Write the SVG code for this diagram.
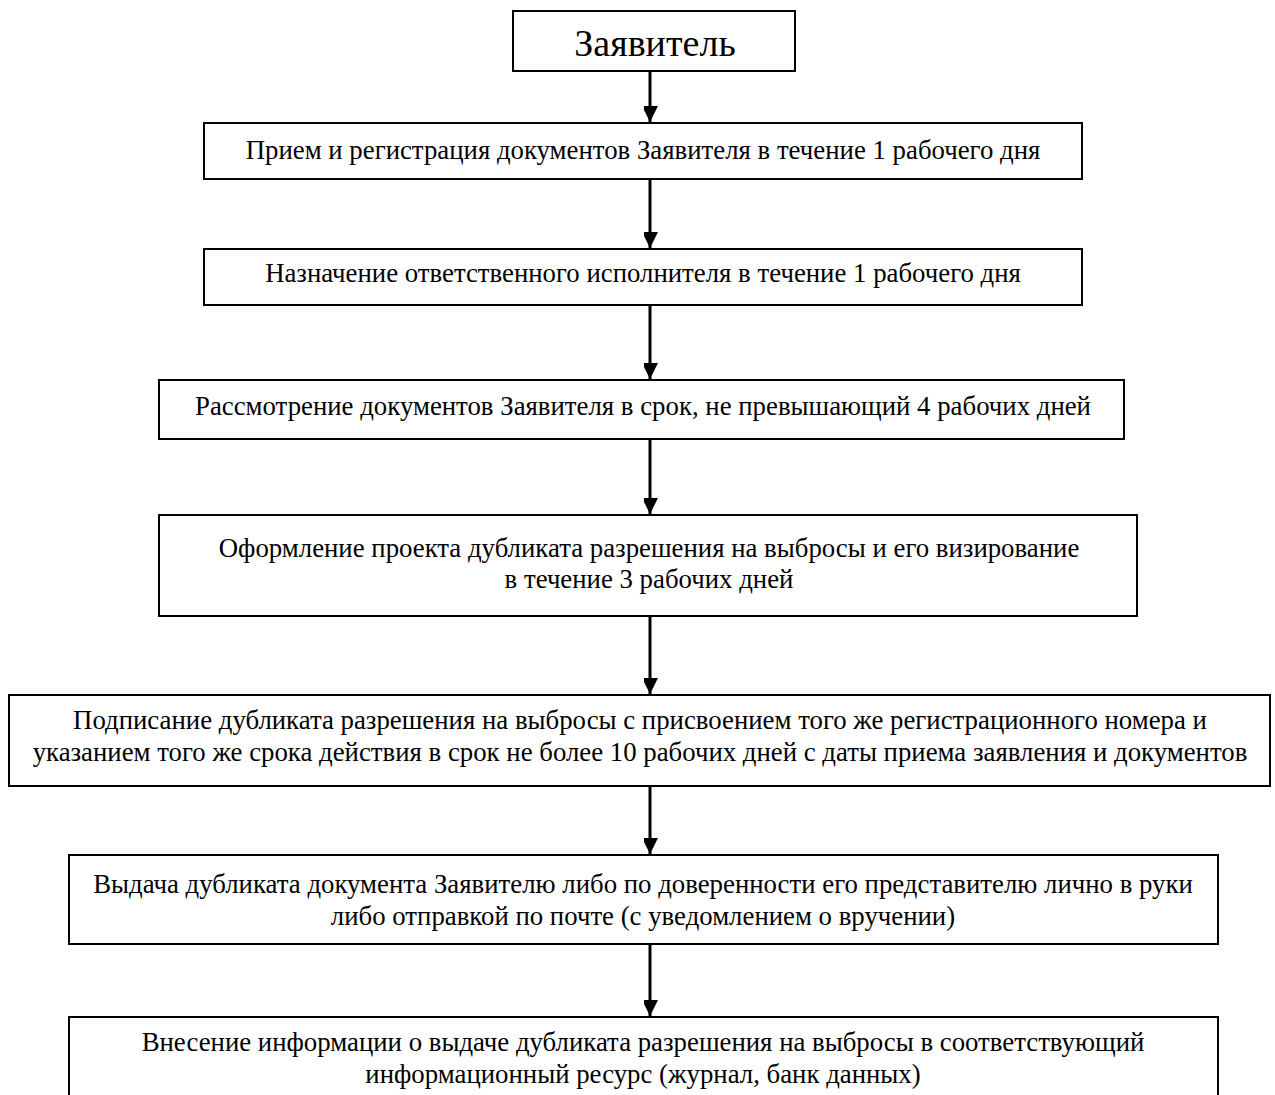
<svg xmlns="http://www.w3.org/2000/svg" width="1275" height="1095" viewBox="0 0 1275 1095">
<defs>
<style>
.box{fill:#fff;stroke:#000;stroke-width:2}
.t{font-family:"Liberation Serif","Times New Roman",serif;font-size:26.8px;fill:#000;text-anchor:middle}
.big{font-size:38px}
.c{stroke:#000;stroke-width:3;fill:none}
</style>
<marker id="ah" markerUnits="userSpaceOnUse" markerWidth="16" markerHeight="14" refX="16" refY="8" orient="auto">
<path d="M0,0 L16,8 L0,16 Z" fill="#000"/>
</marker>
</defs>
<rect width="1275" height="1095" fill="#fff"/>
<g id="connectors">
<line class="c" x1="650" y1="71" x2="650" y2="122" marker-end="url(#ah)"/>
<line class="c" x1="650" y1="179" x2="650" y2="248" marker-end="url(#ah)"/>
<line class="c" x1="650" y1="305" x2="650" y2="379" marker-end="url(#ah)"/>
<line class="c" x1="650" y1="439" x2="650" y2="514" marker-end="url(#ah)"/>
<line class="c" x1="650" y1="616" x2="650" y2="694" marker-end="url(#ah)"/>
<line class="c" x1="650" y1="786" x2="650" y2="854" marker-end="url(#ah)"/>
<line class="c" x1="650" y1="944" x2="650" y2="1016" marker-end="url(#ah)"/>
</g>
<g id="n1"><rect class="box" x="513" y="11" width="282" height="60"/><text class="t big" x="655" y="56">Заявитель</text></g>
<g id="n2"><rect class="box" x="204" y="123" width="878" height="56"/><text class="t" x="643" y="159">Прием и регистрация документов Заявителя в течение 1 рабочего дня</text></g>
<g id="n3"><rect class="box" x="204" y="249" width="878" height="56"/><text class="t" x="643" y="282">Назначение ответственного исполнителя в течение 1 рабочего дня</text></g>
<g id="n4"><rect class="box" x="159" y="380" width="965" height="59"/><text class="t" x="643" y="415">Рассмотрение документов Заявителя в срок, не превышающий 4 рабочих дней</text></g>
<g id="n5"><rect class="box" x="159" y="515" width="978" height="101"/><text class="t" x="649" y="557">Оформление проекта дубликата разрешения на выбросы и его визирование</text><text class="t" x="649" y="588">в течение 3 рабочих дней</text></g>
<g id="n6"><rect class="box" x="9" y="695" width="1261" height="91"/><text class="t" x="640" y="729">Подписание дубликата разрешения на выбросы с присвоением того же регистрационного номера и</text><text class="t" x="640" y="761">указанием того же срока действия в срок не более 10 рабочих дней с даты приема заявления и документов</text></g>
<g id="n7"><rect class="box" x="69" y="855" width="1149" height="89"/><text class="t" x="643" y="893">Выдача дубликата документа Заявителю либо по доверенности его представителю  лично в руки</text><text class="t" x="643" y="925">либо отправкой по почте (с уведомлением о вручении)</text></g>
<g id="n8"><rect class="box" x="69" y="1017" width="1149" height="100"/><text class="t" x="643" y="1051">Внесение информации о выдаче дубликата разрешения на выбросы в соответствующий</text><text class="t" x="643" y="1083">информационный ресурс (журнал, банк данных)</text></g>
</svg>
